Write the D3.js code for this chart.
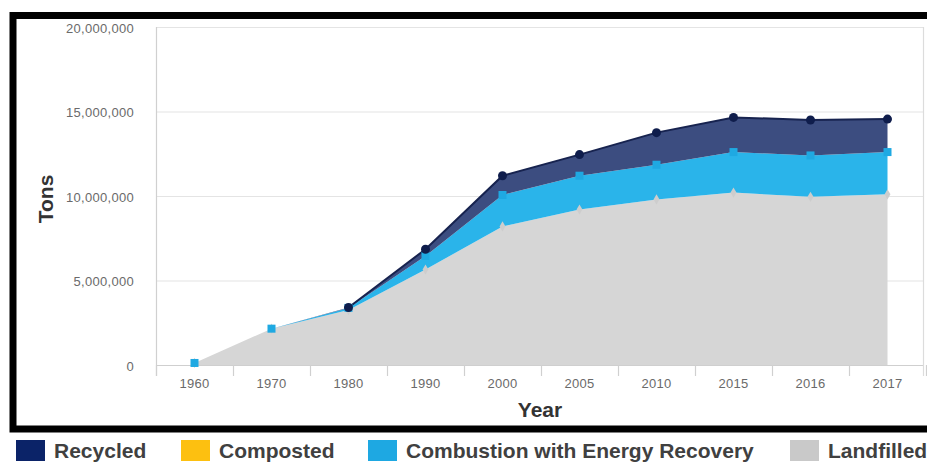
<!DOCTYPE html>
<html>
<head>
<meta charset="utf-8">
<script src="https://cdn.jsdelivr.net/npm/d3@7"></script>
<style>
  html, body { margin: 0; padding: 0; background: #fff; }
  svg { display: block; font-family: "Liberation Sans", Arial, sans-serif; }
</style>
</head>
<body>
<svg id="chart" width="927" height="463"></svg>
<script>
// Tons by management pathway, per year
const years = ["1960", "1970", "1980", "1990", "2000", "2005", "2010", "2015", "2016", "2017"];
const landfilled = [120000, 2150000, 3250000, 5650000, 8200000, 9200000, 9800000, 10200000, 9950000, 10100000];
const combustion = [0, 0, 130000, 800000, 1860000, 2000000, 2050000, 2400000, 2450000, 2500000];
const composted = [0, 0, 0, 0, 0, 0, 0, 0, 0, 0];
const recycled = [0, 0, 20000, 400000, 1140000, 1250000, 1900000, 2050000, 2100000, 1950000];
const yTicks = [0, 5000000, 10000000, 15000000, 20000000];

const legendItems = [
  { label: "Recycled", color: "#0b2368", x: 16 },
  { label: "Composted", color: "#fdc010", x: 181 },
  { label: "Combustion with Energy Recovery", color: "#1ea8e2", x: 368 },
  { label: "Landfilled", color: "#c9c9c9", x: 790 }
];

const rows = years.map((yr, i) => ({
  year: yr,
  landfilled: landfilled[i],
  combustion: combustion[i],
  composted: composted[i],
  recycled: recycled[i]
}));

const svg = d3.select("#chart");

// outer frame
svg.append("rect")
  .attr("x", 13).attr("y", 15.5)
  .attr("width", 940).attr("height", 413.5)
  .attr("fill", "#fff").attr("stroke", "#000").attr("stroke-width", 7);

const plot = { left: 156, right: 926, top: 27, bottom: 365 };

const x = d3.scaleBand().domain(years).range([plot.left, plot.right]).paddingInner(0).paddingOuter(0);
const cx = d => x(d) + x.bandwidth() / 2;
const y = d3.scaleLinear().domain([0, 20000000]).range([plot.bottom, plot.top]);

// gridlines
svg.append("g").selectAll("line").data(yTicks).join("line")
  .attr("x1", plot.left).attr("x2", plot.right - 2)
  .attr("y1", d => y(d) + 0.5).attr("y2", d => y(d) + 0.5)
  .attr("stroke", d => d === 0 ? "#cfcfcf" : "#e4e4e4").attr("stroke-width", 1.2);

// plot frame sides
svg.append("line").attr("x1", plot.left + 0.5).attr("x2", plot.left + 0.5)
  .attr("y1", plot.top).attr("y2", plot.bottom + 11)
  .attr("stroke", "#d0d0d0").attr("stroke-width", 1.2);
svg.append("line").attr("x1", plot.right - 2.5).attr("x2", plot.right - 2.5)
  .attr("y1", plot.top).attr("y2", plot.bottom + 11)
  .attr("stroke", "#dcdcdc").attr("stroke-width", 1.2);

// y axis labels
svg.append("g")
  .attr("transform", `translate(${plot.left - 19},0)`)
  .call(d3.axisLeft(y).tickValues(yTicks).tickSize(0).tickFormat(d3.format(",")))
  .call(g => g.select(".domain").remove())
  .call(g => g.selectAll("text")
    .attr("fill", "#6a6a6a").attr("font-size", 13).attr("dy", "0.42em")
    .attr("font-family", "'Liberation Sans', Arial, sans-serif")
    .attr("letter-spacing", 0.3));

// x axis ticks between categories and labels
const xAxis = svg.append("g").attr("transform", `translate(0,${plot.bottom})`);
xAxis.selectAll("line").data(d3.range(years.length + 1)).join("line")
  .attr("x1", i => plot.left + i * x.bandwidth() + 0.5)
  .attr("x2", i => plot.left + i * x.bandwidth() + 0.5)
  .attr("y1", 0).attr("y2", 11)
  .attr("stroke", "#d0d0d0").attr("stroke-width", 1.2);
xAxis.selectAll("text").data(years).join("text")
  .attr("x", d => cx(d)).attr("y", 23)
  .attr("text-anchor", "middle")
  .attr("fill", "#6a6a6a").attr("font-size", 13).attr("letter-spacing", 0.3)
  .text(d => d);

// stacked areas
const keys = ["landfilled", "combustion", "composted", "recycled"];
const fills = { landfilled: "#d6d6d6", combustion: "#2ab4ea", composted: "#fdc010", recycled: "#3c4d80" };
const stacked = d3.stack().keys(keys)(rows);

const area = d3.area()
  .x(d => cx(d.data.year))
  .y0(d => y(d[0]))
  .y1(d => y(d[1]));

svg.append("g").selectAll("path").data(stacked).join("path")
  .attr("d", area)
  .attr("fill", s => fills[s.key]);

// outline along the recycled top
const topLayer = stacked.find(s => s.key === "recycled");
svg.append("path")
  .datum(topLayer.filter(d => d.data.recycled > 0))
  .attr("d", d3.line().x(d => cx(d.data.year)).y(d => y(d[1])))
  .attr("fill", "none").attr("stroke", "#17234f").attr("stroke-width", 2);

// markers
const landLayer = stacked.find(s => s.key === "landfilled");
svg.append("g").selectAll("path").data(landLayer).join("path")
  .attr("transform", d => `translate(${cx(d.data.year)},${y(d[1])})`)
  .attr("d", d3.symbol(d3.symbolDiamond, 30))
  .attr("fill", "#cdcdcd");

const combLayer = stacked.find(s => s.key === "combustion");
svg.append("g").selectAll("rect").data(combLayer).join("rect")
  .attr("x", d => cx(d.data.year) - 4).attr("y", d => y(d[1]) - 4)
  .attr("width", 8).attr("height", 8)
  .attr("fill", "#1fa9e2");

svg.append("g").selectAll("circle").data(topLayer.filter(d => d.data.recycled > 0)).join("circle")
  .attr("cx", d => cx(d.data.year)).attr("cy", d => y(d[1]))
  .attr("r", 4.5)
  .attr("fill", "#0f1d4c");

// axis titles
svg.append("text")
  .attr("transform", "translate(53,199) rotate(-90)")
  .attr("text-anchor", "middle")
  .attr("font-size", 21).attr("font-weight", "bold").attr("fill", "#333")
  .text("Tons");

svg.append("text")
  .attr("x", 540).attr("y", 417)
  .attr("text-anchor", "middle")
  .attr("font-size", 21).attr("font-weight", "bold").attr("fill", "#333")
  .text("Year");

// legend
const legend = svg.append("g");
legend.selectAll("rect").data(legendItems).join("rect")
  .attr("x", d => d.x).attr("y", 440)
  .attr("width", 29).attr("height", 21)
  .attr("fill", d => d.color);
legend.selectAll("text").data(legendItems).join("text")
  .attr("x", d => d.x + 38).attr("y", 458)
  .attr("font-size", 21).attr("font-weight", "bold").attr("fill", "#404040")
  .text(d => d.label);
</script>
</body>
</html>
